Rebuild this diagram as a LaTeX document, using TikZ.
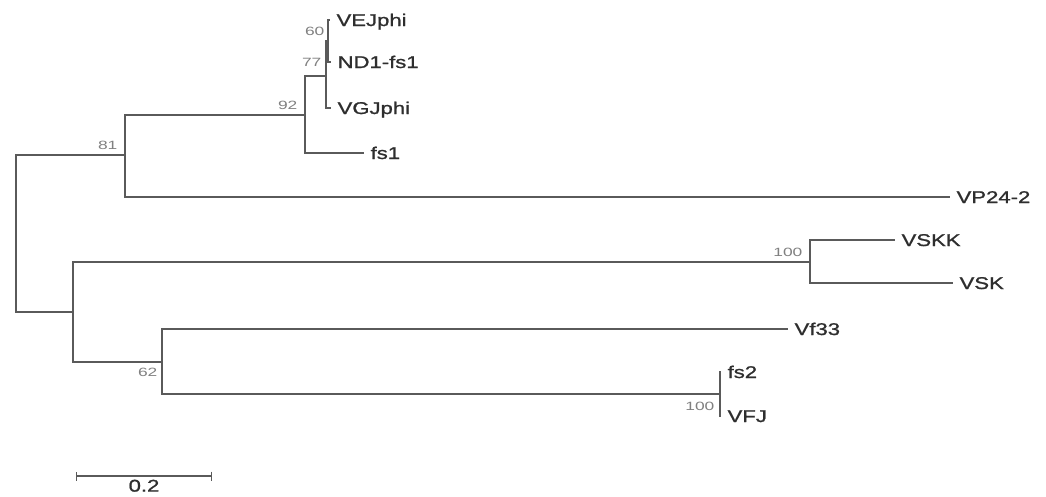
\documentclass[tikz,border=0pt]{standalone}
\usepackage{fontspec}
\setmainfont{Liberation Sans}
\newfontfamily\leaffont{Liberation Sans}[FakeStretch=1.3, FakeBold=1.2]
\newfontfamily\bootfont{Liberation Sans}[FakeStretch=1.45]
\usetikzlibrary{arrows.meta,positioning,calc}
\definecolor{branch}{HTML}{5A5A5A}
\definecolor{leaftext}{HTML}{2E2E2E}
\definecolor{boottext}{HTML}{808080}
\tikzset{every picture/.style={line width=1.2pt}}
\tikzset{
    branch/.style={draw=branch},
    leaf/.style={anchor=west, inner xsep=6pt, inner ysep=0pt, text=leaftext,
        font=\leaffont\fontsize{17}{17}\selectfont, text height=12pt, text depth=0pt},
    boot/.style={inner sep=0pt, text=boottext, font=\bootfont\fontsize{12}{12}\selectfont}
}

\begin{document}
\begin{tikzpicture}[x=1pt, y=-1pt]
    \useasboundingbox (0,0) rectangle (1046,496);
    \coordinate (root) at (16,233);
    \coordinate (n81) at (125,155);
    \coordinate (n92) at (305,115);
    \coordinate (n77) at (326,76);
    \coordinate (n60) at (328,41);
    \coordinate (nB) at (73,312);
    \coordinate (n100a) at (810,262);
    \coordinate (n62) at (162,362);
    \coordinate (n100b) at (720,394);

    \node[leaf] (VEJphi) at (330,20) {VEJphi};
    \node[leaf] (ND1fs1) at (331,62) {ND1-fs1};
    \node[leaf] (VGJphi) at (331,108) {VGJphi};
    \node[leaf] (fs1) at (364,153) {fs1};
    \node[leaf] (VP242) at (950,197) {VP24-2};
    \node[leaf] (VSKK) at (895,240) {VSKK};
    \node[leaf] (VSK) at (953,283) {VSK};
    \node[leaf] (Vf33) at (788,329) {Vf33};
    \node[leaf] (fs2) at (721,372) {fs2};
    \node[leaf] (VFJ) at (721,416) {VFJ};

    \draw[branch] (root) |- (n81);
    \draw[branch] (root) |- (nB);
    \draw[branch] (n81) |- (n92);
    \draw[branch] (n81) |- (VP242);
    \draw[branch] (n92) |- (n77);
    \draw[branch] (n92) |- (fs1);
    \draw[branch] (n77) |- (n60);
    \draw[branch] (n77) |- (VGJphi);
    \draw[branch] (n60) |- (VEJphi);
    \draw[branch] (n60) |- (ND1fs1);
    \draw[branch] (nB) |- (n100a);
    \draw[branch] (nB) |- (n62);
    \draw[branch] (n100a) |- (VSKK);
    \draw[branch] (n100a) |- (VSK);
    \draw[branch] (n62) |- (Vf33);
    \draw[branch] (n62) |- (n100b);
    \draw[branch] (n100b) |- (fs2);
    \draw[branch] (n100b) |- (VFJ);

    \node[boot, above left=5pt and 3pt of n60] (b60) {60};
    \node[boot, above left=9pt and 4pt of n77] (b77) {77};
    \node[boot, above left=5pt and 7pt of n92] (b92) {92};
    \node[boot, above left=5pt and 7pt of n81] (b81) {81};
    \node[boot, above left=5pt and 7pt of n100a] (b100a) {100};
    \node[boot, below left=6pt and 4pt of n62] (b62) {62};
    \node[boot, below left=8pt and 5pt of n100b] (b100b) {100};

    \coordinate (sbL) at (76,476);
    \coordinate (sbR) at (212,476);
    \draw[branch, {Bar[width=9pt]}-{Bar[width=9pt]}] (sbL) -- (sbR);
    \node[leaf, anchor=north, inner sep=0pt] (scale) at ($(sbL)!0.5!(sbR)+(0,3)$) {0.2};
\end{tikzpicture}
\end{document}
